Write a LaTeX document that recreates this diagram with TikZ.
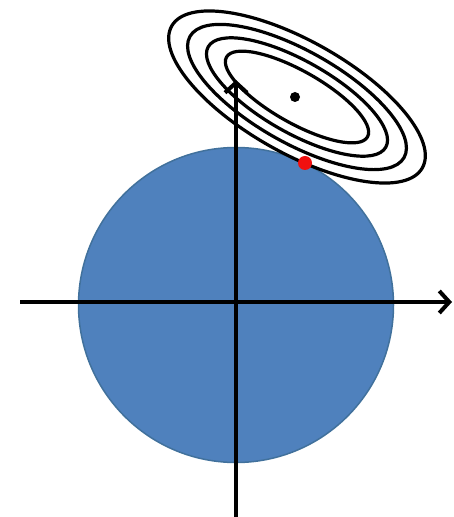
\documentclass[tikz,border=0pt]{standalone}
\usetikzlibrary{arrows.meta}
\definecolor{discblue}{HTML}{4F81BD}
\definecolor{discedge}{HTML}{41719C}
\definecolor{dotred}{HTML}{F01010}
\tikzset{
  disc/.style={fill=discblue, draw=discedge, line width=1.5pt},
  axis/.style={line width=4pt, -{Straight Barb[length=10pt,width=22pt]}},
  contour/.style={draw=black, line width=3.2pt},
}
\begin{document}
\begin{tikzpicture}[x=1pt,y=1pt]
\useasboundingbox (0,0) rectangle (454,517);
\coordinate (O) at (236,212);
\coordinate (xs) at (20,215);
\coordinate (xe) at (452,215);
\coordinate (ys) at (236,0);
\coordinate (ye) at (236,437);
\coordinate (c) at (297,420);
\fill[disc] (O) circle (157.5);
\draw[axis] (xs) -- (xe);
\draw[axis] (ys) -- (ye);
\begin{scope}[rotate around={-29.5:(c)}]
\draw[contour] (c) ellipse [x radius=81, y radius=26];
\draw[contour] (c) ellipse [x radius=102, y radius=36];
\draw[contour] (c) ellipse [x radius=123, y radius=46];
\draw[contour] (c) ellipse [x radius=144, y radius=56];
\end{scope}
\node[circle, fill=black, inner sep=0pt, minimum size=10pt] (opt) at (295,420) {};
\node[circle, fill=dotred, inner sep=0pt, minimum size=14pt] (sol) at (305,354) {};
\end{tikzpicture}
\end{document}
